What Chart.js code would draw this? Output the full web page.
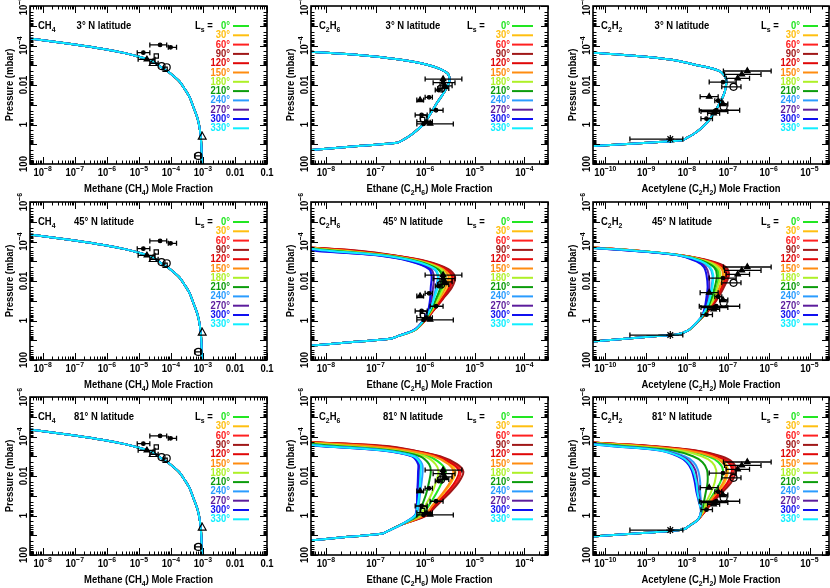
<!DOCTYPE html>
<html>
<head>
<meta charset="utf-8">
<title>Seasonal CH4 / C2H6 / C2H2 profiles</title>
<script src="https://cdn.jsdelivr.net/npm/chart.js@4.4.1/dist/chart.umd.min.js"></script>
<style>
  html, body { margin: 0; padding: 0; background: #fff; width: 830px; height: 588px; overflow: hidden; }
  canvas { position: absolute; }
</style>
</head>
<body>
<script>
/*------------------------ DATA ---------------------------------*/

const LS_VALUES = [0, 30, 60, 90, 120, 150, 180, 210, 240, 270, 300, 330];
const LATITUDES = ['3°', '45°', '81°'];

// tick labels
const Y_TICKS = [1e-6, 1e-4, 0.01, 1, 100];
const X_TICKS_CH4 = [1e-8, 1e-7, 1e-6, 1e-5, 1e-4, 1e-3, 0.01, 0.1];
const X_TICKS_C2H6 = [1e-8, 1e-7, 1e-6, 1e-5, 1e-4];
const X_TICKS_C2H2 = [1e-10, 1e-9, 1e-8, 1e-7, 1e-6, 1e-5];

// methane: same profile for every season and latitude
const CH4_P = [3.2e-5, 4.4e-5, 8.9e-5, 1.5e-4, 2.5e-4, 3.7e-4, 6.3e-4, 1.26e-3, 2.0e-3, 6.3e-3, 0.016, 0.04, 0.126, 0.5, 2, 10, 100];
const CH4_X = [1e-9, 4e-9, 1e-7, 7.9e-7, 4e-6, 1e-5, 2.7e-5, 5e-5, 7.9e-5, 1.8e-4, 2.7e-4, 3.8e-4, 5e-4, 6.8e-4, 8.1e-4, 8.9e-4, 9.3e-4];

// ethane pressure levels (mbar): top, 11 seasonal levels, 6 deep levels
const C2H6_P = [1.5e-4, 2e-4, 3e-4, 5e-4, 1e-3, 2.5e-3, 6e-3, 0.02, 0.08, 0.3, 1, 3, 6, 8.5, 12, 16, 20, 25];
const C2H6_TOP = [1e-9, 1e-9, 1e-9];
const C2H6_DEEP = [
  [3.6e-7, 2.7e-7, 5.1e-8, 1.35e-8, 4.5e-9, 1.5e-9],
  [2.9e-7, 1.95e-7, 3.9e-8, 1.07e-8, 3.6e-9, 1.2e-9],
  [1.8e-7, 1.3e-7, 2.8e-8, 8.9e-9, 3.4e-9, 1.3e-9]
];
const C2H6_3N = [4.4e-9, 4.6e-8, 2.8e-7, 1.2e-6, 2.8e-6, 3.1e-6, 2.5e-6, 1.74e-6, 1.26e-6, 9.1e-7, 5.5e-7];
const C2H6_45N = [
  [3.3e-9, 2.0e-8, 1.6e-7, 7.6e-7, 1.95e-6, 2.45e-6, 2.25e-6, 1.8e-6, 1.35e-6, 9.5e-7, 6.2e-7],
  [4.2e-9, 3.5e-8, 1.95e-7, 9.1e-7, 2.45e-6, 3.2e-6, 2.9e-6, 2.1e-6, 1.45e-6, 9.8e-7, 6.3e-7],
  [4.7e-9, 4.6e-8, 2.2e-7, 1.02e-6, 2.75e-6, 3.7e-6, 3.2e-6, 2.2e-6, 1.48e-6, 1.0e-6, 6.3e-7],
  [5.0e-9, 5.2e-8, 2.3e-7, 1.07e-6, 2.95e-6, 4.0e-6, 3.5e-6, 2.3e-6, 1.5e-6, 1.0e-6, 6.3e-7],
  [4.5e-9, 4.1e-8, 2.1e-7, 9.8e-7, 2.6e-6, 3.5e-6, 3.1e-6, 2.2e-6, 1.48e-6, 1.0e-6, 6.3e-7],
  [3.9e-9, 3.0e-8, 1.8e-7, 8.5e-7, 2.3e-6, 2.95e-6, 2.6e-6, 1.95e-6, 1.4e-6, 9.8e-7, 6.2e-7],
  [3.5e-9, 2.3e-8, 1.7e-7, 7.9e-7, 2.1e-6, 2.6e-6, 2.4e-6, 1.85e-6, 1.35e-6, 9.5e-7, 6.2e-7],
  [3.0e-9, 1.66e-8, 1.5e-7, 6.9e-7, 1.8e-6, 2.2e-6, 2.05e-6, 1.66e-6, 1.3e-6, 9.5e-7, 6.2e-7],
  [2.5e-9, 1.1e-8, 1.26e-7, 5.9e-7, 1.5e-6, 1.8e-6, 1.66e-6, 1.48e-6, 1.23e-6, 9.3e-7, 6.0e-7],
  [2.2e-9, 7.9e-9, 1.12e-7, 5.2e-7, 1.3e-6, 1.5e-6, 1.45e-6, 1.35e-6, 1.17e-6, 9.1e-7, 6.0e-7],
  [2.0e-9, 6.5e-9, 1.05e-7, 4.9e-7, 1.2e-6, 1.35e-6, 1.3e-6, 1.26e-6, 1.15e-6, 9.1e-7, 6.0e-7],
  [2.6e-9, 1.2e-8, 1.3e-7, 6.2e-7, 1.6e-6, 1.85e-6, 1.8e-6, 1.5e-6, 1.26e-6, 9.3e-7, 6.2e-7]
];
const C2H6_81N = [
  [3.8e-9, 4.6e-8, 3.1e-7, 1.17e-6, 2.1e-6, 2.6e-6, 2.2e-6, 1.66e-6, 1.2e-6, 8.5e-7, 3.2e-7],
  [5.8e-9, 9.3e-8, 4.4e-7, 1.58e-6, 3.2e-6, 4.1e-6, 3.4e-6, 2.3e-6, 1.48e-6, 9.8e-7, 3.2e-7],
  [7.2e-9, 1.4e-7, 5.4e-7, 1.86e-6, 4.0e-6, 5.2e-6, 4.4e-6, 2.8e-6, 1.66e-6, 1.05e-6, 3.2e-7],
  [7.9e-9, 1.66e-7, 5.8e-7, 2.0e-6, 4.4e-6, 5.9e-6, 4.8e-6, 3.0e-6, 1.74e-6, 1.07e-6, 3.2e-7],
  [6.6e-9, 1.2e-7, 4.9e-7, 1.74e-6, 3.6e-6, 4.8e-6, 4.0e-6, 2.6e-6, 1.58e-6, 1.02e-6, 3.2e-7],
  [5.2e-9, 8.1e-8, 4.1e-7, 1.48e-6, 2.95e-6, 3.7e-6, 3.2e-6, 2.2e-6, 1.41e-6, 9.5e-7, 3.2e-7],
  [2.9e-9, 2.9e-8, 2.45e-7, 9.8e-7, 1.62e-6, 1.86e-6, 1.66e-6, 1.35e-6, 1.02e-6, 7.9e-7, 3.2e-7],
  [2.1e-9, 1.66e-8, 1.9e-7, 7.8e-7, 1.2e-6, 1.3e-6, 1.2e-6, 1.05e-6, 8.7e-7, 7.2e-7, 3.2e-7],
  [1.5e-9, 9.3e-9, 1.45e-7, 6.2e-7, 8.7e-7, 8.9e-7, 8.5e-7, 7.9e-7, 7.4e-7, 6.5e-7, 3.2e-7],
  [1.3e-9, 7.4e-9, 1.3e-7, 5.6e-7, 7.6e-7, 7.8e-7, 7.4e-7, 7.2e-7, 6.9e-7, 6.3e-7, 3.2e-7],
  [1.26e-9, 6.8e-9, 1.23e-7, 5.4e-7, 7.2e-7, 7.2e-7, 7.1e-7, 6.9e-7, 6.8e-7, 6.2e-7, 3.2e-7],
  [1.4e-9, 8.1e-9, 1.35e-7, 5.8e-7, 8.1e-7, 8.1e-7, 7.9e-7, 7.6e-7, 7.1e-7, 6.3e-7, 3.2e-7]
];

// acetylene pressure levels (mbar): top, 10 seasonal levels, 8 deep levels
const C2H2_P = [1.5e-4, 2e-4, 3e-4, 5e-4, 1e-3, 2e-3, 5e-3, 0.02, 0.063, 0.2, 0.63, 1.6, 3.2, 5.0, 6.3, 7.9, 10, 12.6, 15.8];
const C2H2_TOP = [1e-11, 1e-11, 1e-11];
const C2H2_DEEP = [
  [2.2e-8, 1.4e-8, 9.5e-9, 7.9e-9, 1.7e-9, 2.7e-10, 4.2e-11, 6.6e-12],
  [1.55e-8, 1.07e-8, 6.0e-9, 1.6e-9, 4.3e-10, 1.15e-10, 3.0e-11, 8e-12],
  [1.86e-8, 1.17e-8, 8.3e-9, 3.2e-9, 6.6e-10, 1.3e-10, 2.7e-11, 5.4e-12]
];
const C2H2_3N = [2.1e-11, 2.9e-10, 3.5e-9, 1.8e-8, 6.3e-8, 9.1e-8, 8.5e-8, 6.8e-8, 5.0e-8, 3.4e-8];
const C2H2_45N = [
  [4.2e-11, 6.5e-10, 6.6e-9, 2.7e-8, 5.1e-8, 6.0e-8, 5.4e-8, 4.4e-8, 3.4e-8, 2.4e-8],
  [4.7e-11, 7.1e-10, 6.9e-9, 3.4e-8, 7.1e-8, 8.3e-8, 6.8e-8, 5.2e-8, 3.8e-8, 2.45e-8],
  [5.0e-11, 7.4e-10, 7.1e-9, 3.7e-8, 8.3e-8, 9.8e-8, 7.6e-8, 5.8e-8, 4.0e-8, 2.5e-8],
  [5.1e-11, 7.6e-10, 7.2e-9, 4.0e-8, 9.1e-8, 1.07e-7, 8.1e-8, 6.0e-8, 4.1e-8, 2.5e-8],
  [4.8e-11, 7.2e-10, 7.1e-9, 3.6e-8, 7.8e-8, 9.1e-8, 7.2e-8, 5.5e-8, 3.9e-8, 2.5e-8],
  [4.5e-11, 6.9e-10, 6.9e-9, 3.2e-8, 6.5e-8, 7.6e-8, 6.3e-8, 5.0e-8, 3.6e-8, 2.45e-8],
  [4.3e-11, 6.6e-10, 6.8e-9, 2.9e-8, 5.6e-8, 6.6e-8, 5.6e-8, 4.7e-8, 3.5e-8, 2.4e-8],
  [3.9e-11, 6.2e-10, 6.6e-9, 2.5e-8, 4.6e-8, 5.4e-8, 4.8e-8, 4.1e-8, 3.3e-8, 2.4e-8],
  [3.5e-11, 5.8e-10, 6.3e-9, 2.1e-8, 3.5e-8, 4.2e-8, 4.0e-8, 3.5e-8, 3.0e-8, 2.3e-8],
  [3.3e-11, 5.5e-10, 6.2e-9, 1.86e-8, 2.9e-8, 3.4e-8, 3.5e-8, 3.2e-8, 2.9e-8, 2.3e-8],
  [3.2e-11, 5.2e-10, 6.0e-9, 1.7e-8, 2.6e-8, 3.0e-8, 3.2e-8, 3.0e-8, 2.75e-8, 2.3e-8],
  [3.6e-11, 5.9e-10, 6.3e-9, 2.2e-8, 3.7e-8, 4.4e-8, 4.2e-8, 3.7e-8, 3.1e-8, 2.3e-8]
];
const C2H2_81N = [
  [3.9e-11, 6.6e-10, 8.3e-9, 3.3e-8, 5.9e-8, 7.6e-8, 6.6e-8, 4.8e-8, 3.4e-8, 2.6e-8],
  [4.4e-11, 8.7e-10, 1.07e-8, 4.5e-8, 8.1e-8, 1.0e-7, 8.5e-8, 5.8e-8, 3.8e-8, 2.6e-8],
  [4.9e-11, 1.2e-9, 1.4e-8, 6.2e-8, 1.12e-7, 1.4e-7, 1.1e-7, 7.1e-8, 4.2e-8, 2.7e-8],
  [5.1e-11, 1.35e-9, 1.55e-8, 6.9e-8, 1.3e-7, 1.6e-7, 1.23e-7, 7.6e-8, 4.4e-8, 2.75e-8],
  [4.7e-11, 1.07e-9, 1.26e-8, 5.4e-8, 1.0e-7, 1.26e-7, 1.0e-7, 6.5e-8, 4.0e-8, 2.7e-8],
  [4.2e-11, 7.9e-10, 9.8e-9, 4.1e-8, 7.2e-8, 9.3e-8, 7.8e-8, 5.5e-8, 3.6e-8, 2.6e-8],
  [3.4e-11, 4.7e-10, 6.0e-9, 2.3e-8, 4.1e-8, 5.2e-8, 4.8e-8, 3.9e-8, 3.0e-8, 2.45e-8],
  [2.8e-11, 2.9e-10, 4.0e-9, 1.4e-8, 2.4e-8, 3.1e-8, 3.2e-8, 2.9e-8, 2.6e-8, 2.3e-8],
  [2.3e-11, 1.8e-10, 2.6e-9, 8.7e-9, 1.45e-8, 1.86e-8, 2.1e-8, 2.1e-8, 2.2e-8, 2.25e-8],
  [2.1e-11, 1.5e-10, 2.3e-9, 7.2e-9, 1.2e-8, 1.6e-8, 1.8e-8, 1.9e-8, 2.1e-8, 2.2e-8],
  [2.0e-11, 1.26e-10, 1.95e-9, 6.0e-9, 9.8e-9, 1.3e-8, 1.55e-8, 1.7e-8, 1.95e-8, 2.2e-8],
  [2.1e-11, 1.4e-10, 2.1e-9, 6.6e-9, 1.07e-8, 1.4e-8, 1.7e-8, 1.8e-8, 2.0e-8, 2.2e-8]
];

// observations (same in every row): value, pressure, error bar ends, marker
const CH4_OBS_X  = [4.6e-5, 9.8e-5, 1.38e-5, 1.78e-5, 3.5e-5, 2.8e-5, 5.1e-5, 7.4e-5, 6.6e-5, 9.5e-4, 7.2e-4];
const CH4_OBS_P  = [9.3e-5, 1.23e-4, 2.3e-4, 5.0e-4, 3.4e-4, 7.9e-4, 1.1e-3, 1.26e-3, 1.6e-3, 4.2, 39];
const CH4_OBS_LO = [2.2e-5, 8.3e-5, 8.9e-6, 9.5e-6, null, 2.2e-5, null, null, null, null, 5.5e-4];
const CH4_OBS_HI = [7.4e-5, 1.5e-4, 2.2e-5, 3.2e-5, null, 4.0e-5, null, null, null, null, 8.5e-4];
const CH4_OBS_M  = ['dot', 'dot', 'dot', 'tri', 'sq', 'otri', 'circ', 'circ', 'sq', 'otri', 'circ'];

const C2H6_OBS_X  = [2.3e-6, 2.3e-6, 2.5e-6, 2.1e-6, 1.86e-6, 7.9e-7, 1.2e-6, 1.66e-6, 8.5e-7, 9.3e-7, 1.07e-6, 9.3e-7, 1.26e-6, 8.9e-7];
const C2H6_OBS_P  = [5.0e-3, 7.6e-3, 0.011, 0.015, 0.018, 0.058, 0.042, 0.19, 0.33, 0.49, 0.72, 0.93, 0.9, 0.56];
const C2H6_OBS_LO = [1.0e-6, 1.45e-6, 2.0e-6, 1.8e-6, 1.6e-6, 6.8e-7, 1.0e-6, 1.26e-6, 6.3e-7, null, 6.8e-7, 6.8e-7, null, null];
const C2H6_OBS_HI = [5.5e-6, 4.0e-6, 3.5e-6, 3.0e-6, 2.2e-6, 9.3e-7, 1.4e-6, 2.3e-6, 1.1e-6, null, 1.4e-6, 3.7e-6, null, null];
const C2H6_OBS_M  = ['tri', 'dot', 'tri', 'circ', 'dot', 'tri', 'dot', 'dot', 'dot', 'circ', 'dot', 'dot', 'tri', 'sq'];

const C2H2_OBS_X  = [3.0e-7, 2.2e-7, 1.74e-7, 7.6e-8, 1.38e-7, 3.5e-8, 5.8e-8, 7.6e-8, 7.9e-8, 5.2e-8, 5.0e-8, 4.5e-8, 3.0e-8, 3.9e-9];
const C2H2_OBS_P  = [1.95e-3, 2.9e-3, 4.6e-3, 7.1e-3, 0.0123, 0.039, 0.062, 0.091, 0.126, 0.19, 0.22, 0.27, 0.51, 5.5];
const C2H2_OBS_LO = [7.8e-8, 8.3e-8, 9.1e-8, 3.5e-8, 7.1e-8, 2.1e-8, 4.8e-8, 6.3e-8, null, 2.0e-8, 2.2e-8, 3.2e-8, 2.2e-8, 4.0e-10];
const C2H2_OBS_HI = [1.15e-6, 6.5e-7, 3.4e-7, 1.6e-7, 2.1e-7, 5.8e-8, 7.1e-8, 1.0e-7, null, 1.95e-7, 1.0e-7, 6.3e-8, 4.2e-8, 7.9e-9];
const C2H2_OBS_M  = ['tri', 'tri', 'tri', 'dot', 'circ', 'tri', 'dot', 'tri', 'circ', 'dot', 'dot', 'tri', 'dot', 'star'];

/*------------------------ STYLE / LAYOUT ---------------------------------*/

const LS_COLORS = ['#22e622', '#ffbf10', '#ff2020', '#a01818', '#e00808', '#ff8c10',
                   '#aef028', '#0c9c0c', '#2a9cff', '#5c1c9c', '#1010f0', '#10eeff'];
const FAMILY = '"Liberation Sans", Arial, sans-serif';
const F_MAIN = 'bold 11px ' + FAMILY;
const F_SMALL = 'bold 8px ' + FAMILY;
const SQUEEZE = 0.86;   // narrow the glyphs like the original plot font

const COL_LEFT = [30, 311, 593];
const COL_W = [237, 237, 236];
const PAD_RIGHT = [12, 12, 1];
const ROW_TOP = [6, 202, 397];
const BOX_H = 158;
const PAD_TOP = 14;
const X_RANGE = [[4e-9, 0.1], [5e-9, 3e-4], [5e-11, 3e-5]];
const LAT_CX = [74, 102, 89];
const LEG = [
  { ls: 165, txt: 200, l0: 203, l1: 219 },
  { ls: 156, txt: 199, l0: 201, l1: 222 },
  { ls: 168, txt: 207, l0: 210, l1: 225 }
];
const MARKS = {
  dot:  { style: 'circle',   r: 1.8, fill: '#000' },
  tri:  { style: 'triangle', r: 3.2, fill: '#000' },
  otri: { style: 'triangle', r: 4.5, fill: 'rgba(255,255,255,0)' },
  circ: { style: 'circle',   r: 3.5, fill: 'rgba(255,255,255,0)' },
  sq:   { style: 'rect',     r: 3.0, fill: 'rgba(255,255,255,0)' },
  star: { style: 'star',     r: 4.0, fill: '#000' }
};

const SPECIES = [
  { name: [['CH', 0], ['4', -1]],
    title: [['Methane (CH', 0], ['4', -1], [') Mole Fraction', 0]],
    ticks: X_TICKS_CH4,
    obs: [CH4_OBS_X, CH4_OBS_P, CH4_OBS_LO, CH4_OBS_HI, CH4_OBS_M] },
  { name: [['C', 0], ['2', -1], ['H', 0], ['6', -1]],
    title: [['Ethane (C', 0], ['2', -1], ['H', 0], ['6', -1], [') Mole Fraction', 0]],
    ticks: X_TICKS_C2H6,
    obs: [C2H6_OBS_X, C2H6_OBS_P, C2H6_OBS_LO, C2H6_OBS_HI, C2H6_OBS_M] },
  { name: [['C', 0], ['2', -1], ['H', 0], ['2', -1]],
    title: [['Acetylene (C', 0], ['2', -1], ['H', 0], ['2', -1], [') Mole Fraction', 0]],
    ticks: X_TICKS_C2H2,
    obs: [C2H2_OBS_X, C2H2_OBS_P, C2H2_OBS_LO, C2H2_OBS_HI, C2H2_OBS_M] }
];

/*------------------------ HELPERS ---------------------------------*/

// text made of pieces: 0 normal, -1 subscript, 1 superscript
function drawParts(ctx, parts, x, y, align) {
  const w = parts.map(([t, k]) => { ctx.font = k ? F_SMALL : F_MAIN; return ctx.measureText(t).width * SQUEEZE; });
  const total = w.reduce((a, b) => a + b, 0);
  let cx = align === 'center' ? x - total / 2 : align === 'right' ? x - total : x;
  ctx.textAlign = 'left';
  ctx.textBaseline = 'alphabetic';
  parts.forEach(([t, k], i) => {
    ctx.font = k ? F_SMALL : F_MAIN;
    ctx.save();
    ctx.translate(cx, y + (k < 0 ? 3 : k > 0 ? -5 : 0));
    ctx.scale(SQUEEZE, 1);
    ctx.fillText(t, 0, 0);
    ctx.restore();
    cx += w[i];
  });
}

function tickParts(v) {
  const n = Math.round(Math.log10(v));
  if (n <= -3) return [['10', 0], ['\u2212' + (-n), 1]];
  return [[String(v), 0]];
}

function logMarks(min, max) {
  const out = [];
  for (let d = Math.floor(Math.log10(min)); d <= Math.ceil(Math.log10(max)); d++) {
    for (let m = 1; m <= 9; m++) {
      const v = m * Math.pow(10, d);
      if (v >= min * 0.999 && v <= max * 1.001) out.push([v, m === 1]);
    }
  }
  return out;
}

function seasonX(col, row, s) {
  if (col === 0) return CH4_X;
  if (col === 1) {
    const mid = row === 0 ? C2H6_3N : (row === 1 ? C2H6_45N[s] : C2H6_81N[s]);
    return [C2H6_TOP[row]].concat(mid, C2H6_DEEP[row]);
  }
  const mid = row === 0 ? C2H2_3N : (row === 1 ? C2H2_45N[s] : C2H2_81N[s]);
  return [C2H2_TOP[row]].concat(mid, C2H2_DEEP[row]);
}

/*------------------------ PLUGIN: frame, ticks, labels, legend, error bars ---------------------------------*/

const panelPlugin = {
  id: 'panel',
  beforeDatasetDraw(chart, args) {
    const ds = chart.data.datasets[args.index];
    if (!ds.isObs) return;
    const { ctx, scales: { x, y } } = chart;
    const [, P, LO, HI] = SPECIES[ds.col].obs;
    ctx.save();
    ctx.strokeStyle = '#000';
    ctx.lineWidth = 1.3;
    ctx.beginPath();
    for (let i = 0; i < P.length; i++) {
      if (LO[i] == null) continue;
      const py = y.getPixelForValue(P[i]);
      const x1 = x.getPixelForValue(LO[i]), x2 = x.getPixelForValue(HI[i]);
      ctx.moveTo(x1, py); ctx.lineTo(x2, py);
      ctx.moveTo(x1, py - 2.5); ctx.lineTo(x1, py + 2.5);
      ctx.moveTo(x2, py - 2.5); ctx.lineTo(x2, py + 2.5);
    }
    ctx.stroke();
    ctx.restore();
  },
  afterDraw(chart, args, o) {
    const { ctx, chartArea: a, scales: { x, y } } = chart;
    const col = o.col, row = o.row;
    const sp = SPECIES[col];
    ctx.save();
    ctx.fillStyle = '#000';
    ctx.strokeStyle = '#000';

    // tick marks on all four sides, pointing inward
    ctx.lineWidth = 1;
    ctx.beginPath();
    for (const [v, major] of logMarks(x.min, x.max)) {
      const px = Math.round(x.getPixelForValue(v)) + 0.5;
      const L = major ? 7 : 3.5;
      ctx.moveTo(px, a.bottom); ctx.lineTo(px, a.bottom - L);
      ctx.moveTo(px, a.top); ctx.lineTo(px, a.top + L);
    }
    for (const [v, major] of logMarks(1e-6, 100)) {
      const py = Math.round(y.getPixelForValue(v)) + 0.5;
      const L = major ? 7 : 3.5;
      ctx.moveTo(a.left, py); ctx.lineTo(a.left + L, py);
      ctx.moveTo(a.right, py); ctx.lineTo(a.right - L, py);
    }
    ctx.stroke();
    ctx.lineWidth = 1.6;
    ctx.strokeRect(a.left, a.top, a.right - a.left, a.bottom - a.top);

    // x tick labels and title
    for (const v of sp.ticks) drawParts(ctx, tickParts(v), x.getPixelForValue(v), a.bottom + 12, 'center');
    drawParts(ctx, sp.title, (a.left + a.right) / 2, a.bottom + 28, 'center');

    // y tick labels and title, rotated
    for (const v of Y_TICKS) {
      ctx.save();
      ctx.translate(a.left - 3, y.getPixelForValue(v));
      ctx.rotate(-Math.PI / 2);
      drawParts(ctx, tickParts(v), 0, 0, 'center');
      ctx.restore();
    }
    ctx.save();
    ctx.translate(a.left - 17, (a.top + a.bottom) / 2);
    ctx.rotate(-Math.PI / 2);
    drawParts(ctx, [['Pressure (mbar)', 0]], 0, 0, 'center');
    ctx.restore();

    // species and latitude
    const base = a.top + 23;
    drawParts(ctx, sp.name, a.left + 8, base, 'left');
    drawParts(ctx, [[LATITUDES[row] + ' N latitude', 0]], a.left + LAT_CX[col], base, 'center');

    // season legend
    const lg = LEG[col];
    drawParts(ctx, [['L', 0], ['s', -1], [' =', 0]], a.left + lg.ls, base, 'left');
    ctx.lineWidth = 2;
    LS_VALUES.forEach((ls, i) => {
      const yy = base + i * 9.3;
      ctx.fillStyle = LS_COLORS[i];
      ctx.strokeStyle = LS_COLORS[i];
      drawParts(ctx, [[ls + '°', 0]], a.left + lg.txt, yy, 'right');
      ctx.beginPath();
      ctx.moveTo(a.left + lg.l0, yy - 3);
      ctx.lineTo(a.left + lg.l1, yy - 3);
      ctx.stroke();
    });
    ctx.restore();
  }
};

/*------------------------ PANELS ---------------------------------*/

for (let row = 0; row < 3; row++) {
  for (let col = 0; col < 3; col++) {
    const canvas = document.createElement('canvas');
    canvas.width = 30 + COL_W[col] + PAD_RIGHT[col];
    canvas.height = PAD_TOP + BOX_H + 32;
    canvas.style.left = (COL_LEFT[col] - 30) + 'px';
    canvas.style.top = (ROW_TOP[row] - PAD_TOP) + 'px';
    document.body.appendChild(canvas);

    const P = col === 0 ? CH4_P : (col === 1 ? C2H6_P : C2H2_P);
    const datasets = LS_VALUES.map((ls, s) => {
      const X = seasonX(col, row, s);
      return {
        label: 'Ls = ' + ls + '°',
        data: P.map((p, i) => ({ x: X[i], y: p })),
        borderColor: LS_COLORS[s],
        borderWidth: 2,
        pointRadius: 0,
        tension: 0.3,
        fill: false,
        order: 12 - s
      };
    });
    const [OX, OP, , , OM] = SPECIES[col].obs;
    datasets.push({
      label: 'observations',
      isObs: true,
      col: col,
      data: OX.map((v, i) => ({ x: v, y: OP[i] })),
      showLine: false,
      pointStyle: OM.map(m => MARKS[m].style),
      pointRadius: OM.map(m => MARKS[m].r),
      pointBackgroundColor: OM.map(m => MARKS[m].fill),
      pointBorderColor: '#000',
      pointBorderWidth: 1.2,
      order: 0
    });

    new Chart(canvas.getContext('2d'), {
      type: 'line',
      data: { datasets },
      plugins: [panelPlugin],
      options: {
        responsive: false,
        animation: false,
        events: [],
        layout: { autoPadding: false, padding: { top: PAD_TOP, left: 0, right: PAD_RIGHT[col], bottom: 0 } },
        plugins: {
          legend: { display: false },
          tooltip: { enabled: false },
          panel: { col: col, row: row }
        },
        scales: {
          x: {
            type: 'logarithmic', min: X_RANGE[col][0], max: X_RANGE[col][1],
            ticks: { display: false }, grid: { display: false }, border: { display: false },
            afterFit: s => { s.height = 32; }
          },
          y: {
            type: 'logarithmic', min: 1e-6, max: 100, reverse: true,
            ticks: { display: false }, grid: { display: false }, border: { display: false },
            afterFit: s => { s.width = 30; }
          }
        }
      }
    });
  }
}
</script>
</body>
</html>
